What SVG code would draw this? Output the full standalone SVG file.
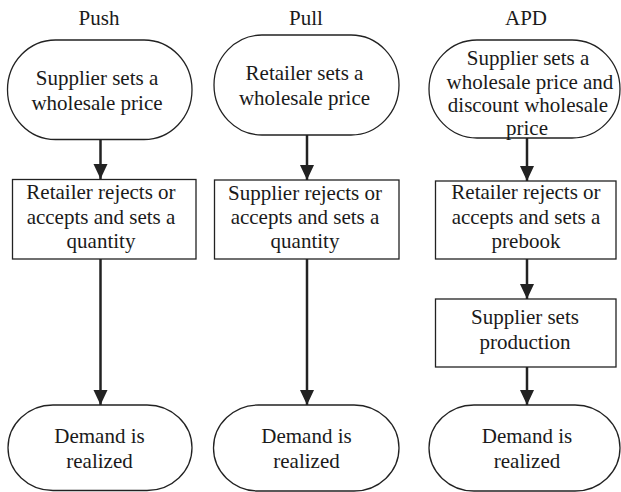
<svg xmlns="http://www.w3.org/2000/svg" width="621" height="492" viewBox="0 0 621 492">
<style>
text{font-family:"Liberation Serif","Times New Roman",serif;font-size:21px;fill:#1a1a1a;text-anchor:middle}
.s{fill:#fff;stroke:#222;stroke-width:1.3}
.c{stroke:#222;stroke-width:2.5;fill:none}
</style>
<defs>
<marker id="ah" markerUnits="userSpaceOnUse" markerWidth="16" markerHeight="16" viewBox="0 0 16 16" refX="15" refY="8" orient="auto">
<path d="M0,1 L15,8 L0,15 Z" fill="#222"/>
</marker>
</defs>
<rect width="621" height="492" fill="#fff"/>
<g id="titles">
<text x="99" y="25">Push</text>
<text x="306" y="25">Pull</text>
<text x="526" y="25">APD</text>
</g>
<g id="connectors">
<line class="c" x1="100.5" y1="139" x2="100.5" y2="179" marker-end="url(#ah)"/>
<line class="c" x1="100.5" y1="259" x2="100.5" y2="405" marker-end="url(#ah)"/>
<line class="c" x1="307" y1="135" x2="307" y2="180" marker-end="url(#ah)"/>
<line class="c" x1="307" y1="259" x2="307" y2="405" marker-end="url(#ah)"/>
<line class="c" x1="527" y1="138" x2="527" y2="181" marker-end="url(#ah)"/>
<line class="c" x1="527" y1="259" x2="527" y2="299" marker-end="url(#ah)"/>
<line class="c" x1="527" y1="367" x2="527" y2="405" marker-end="url(#ah)"/>
</g>
<g id="push1">
<rect class="s" x="7.5" y="40" width="184.5" height="99.5" rx="48" ry="49.75"/>
<text x="97" y="85">Supplier sets a</text>
<text x="97" y="110">wholesale price</text>
</g>
<g id="push2">
<rect class="s" x="12.5" y="179.5" width="183.5" height="79.5"/>
<text x="101" y="199">Retailer rejects or</text>
<text x="101" y="224">accepts and sets a</text>
<text x="101" y="248">quantity</text>
</g>
<g id="push3">
<rect class="s" x="8" y="405" width="184" height="85.5" rx="45" ry="42.75"/>
<text x="99.5" y="443">Demand is</text>
<text x="99.5" y="468">realized</text>
</g>
<g id="pull1">
<rect class="s" x="214" y="35" width="185" height="100" rx="48" ry="50"/>
<text x="304.5" y="80">Retailer sets a</text>
<text x="304.5" y="105">wholesale price</text>
</g>
<g id="pull2">
<rect class="s" x="214.5" y="180" width="184.5" height="79"/>
<text x="305" y="200">Supplier rejects or</text>
<text x="305" y="224">accepts and sets a</text>
<text x="305" y="248">quantity</text>
</g>
<g id="pull3">
<rect class="s" x="213.5" y="405" width="185.5" height="86" rx="45" ry="43"/>
<text x="306.5" y="443">Demand is</text>
<text x="306.5" y="468">realized</text>
</g>
<g id="apd1">
<rect class="s" x="429" y="40" width="191" height="98" rx="48" ry="49"/>
<text x="528" y="65">Supplier sets a</text>
<text x="530" y="88.5">wholesale price and</text>
<text x="528" y="112">discount wholesale</text>
<text x="527" y="135">price</text>
</g>
<g id="apd2">
<rect class="s" x="435.5" y="181" width="180.5" height="78"/>
<text x="526" y="199">Retailer rejects or</text>
<text x="526" y="224">accepts and sets a</text>
<text x="526" y="248">prebook</text>
</g>
<g id="apd3">
<rect class="s" x="435.5" y="299" width="180.5" height="68"/>
<text x="525" y="324">Supplier sets</text>
<text x="525" y="349">production</text>
</g>
<g id="apd4">
<rect class="s" x="429" y="405" width="191" height="86" rx="45" ry="43"/>
<text x="527" y="443">Demand is</text>
<text x="527" y="468">realized</text>
</g>
</svg>
